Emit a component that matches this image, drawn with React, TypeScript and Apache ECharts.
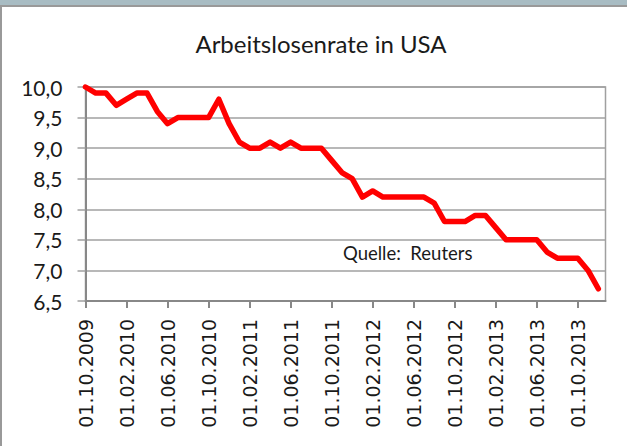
import React, { useEffect, useRef } from "react";
import * as echarts from "echarts";

const titleText = "Arbeitslosenrate in USA";
const sourceText = "Quelle:  Reuters";

// monthly values, 01.10.2009 ... 01.12.2013
const rates = [
  10.0, 9.9, 9.9, 9.7, 9.8, 9.9, 9.9, 9.6, 9.4, 9.5, 9.5, 9.5, 9.5, 9.8, 9.4,
  9.1, 9.0, 9.0, 9.1, 9.0, 9.1, 9.0, 9.0, 9.0, 8.8, 8.6, 8.5, 8.2, 8.3, 8.2,
  8.2, 8.2, 8.2, 8.2, 8.1, 7.8, 7.8, 7.8, 7.9, 7.9, 7.7, 7.5, 7.5, 7.5, 7.5,
  7.3, 7.2, 7.2, 7.2, 7.0, 6.7,
];

const tickLabels = [
  "01.10.2009",
  "01.02.2010",
  "01.06.2010",
  "01.10.2010",
  "01.02.2011",
  "01.06.2011",
  "01.10.2011",
  "01.02.2012",
  "01.06.2012",
  "01.10.2012",
  "01.02.2013",
  "01.06.2013",
  "01.10.2013",
];
const tickStepMonths = 4;

const yMin = 6.5;
const yMax = 10.0;
const yStep = 0.5;

export default function App() {
  const ref = useRef<HTMLDivElement>(null);

  useEffect(() => {
    if (!ref.current) return;
    const chart = echarts.init(ref.current, undefined, { renderer: "svg" });
    const tickValues = tickLabels.map((_, j) => j * tickStepMonths);
    const data = rates.map((v, i) => [i, v]);

    chart.setOption({
      animation: false,
      backgroundColor: "#ffffff",
      title: {
        text: titleText,
        left: 316,
        textAlign: "center",
        top: 26,
        textStyle: {
          fontFamily: "Lato",
          fontSize: 24,
          fontWeight: "normal",
          color: "#1a1a1a",
        },
      },
      graphic: [
        {
          type: "rect",
          shape: { x: 0, y: 0, width: 627, height: 5 },
          style: { fill: "#a8bcc3" },
          silent: true,
        },
        {
          type: "rect",
          shape: { x: 1, y: 6, width: 660, height: 480 },
          style: { fill: "none", stroke: "#999999", lineWidth: 2 },
          silent: true,
        },
        {
          type: "text",
          x: 343,
          y: 253,
          style: {
            text: sourceText,
            fontFamily: "Lato",
            fontSize: 18.5,
            fill: "#1a1a1a",
            verticalAlign: "middle",
          },
          z: 10,
        },
      ],
      grid: {
        left: 85.5,
        right: 21.5,
        top: 87,
        bottom: 145,
        show: true,
        borderColor: "#a0a0a0",
        borderWidth: 1.5,
        outerBoundsMode: "none",
        containLabel: false,
      },
      xAxis: {
        type: "value",
        min: 0,
        max: 50.7,
        splitLine: { show: false },
        axisLine: { show: true, lineStyle: { color: "#888888", width: 2 } },
        axisTick: {
          show: true,
          customValues: tickValues,
          length: 7,
          lineStyle: { color: "#888888", width: 2 },
        },
        axisLabel: {
          customValues: tickValues,
          rotate: 90,
          margin: 18,
          fontFamily: "DejaVu Sans",
          fontSize: 19,
          color: "#1a1a1a",
          formatter: (v: number) => {
            const idx = Math.round(v / tickStepMonths);
            return tickLabels[idx] ?? "";
          },
        },
      },
      yAxis: {
        type: "value",
        min: yMin,
        max: yMax,
        interval: yStep,
        axisLine: { show: true, lineStyle: { color: "#888888", width: 2 } },
        axisTick: {
          show: true,
          length: 8,
          lineStyle: { color: "#a0a0a0", width: 1.5 },
        },
        splitLine: { show: true, lineStyle: { color: "#a0a0a0", width: 1.5 } },
        axisLabel: {
          margin: 23,
          fontFamily: "Lato",
          fontSize: 21,
          color: "#1a1a1a",
          formatter: (v: number) => v.toFixed(1).replace(".", ","),
        },
      },
      series: [
        {
          type: "line",
          data,
          showSymbol: false,
          symbol: "none",
          lineStyle: { color: "#ff0000", width: 5.5, join: "round", cap: "round" },
          z: 5,
        },
      ],
    });

    return () => chart.dispose();
  }, []);

  return (
    <div
      ref={ref}
      style={{ position: "fixed", left: 0, top: 0, width: 627, height: 446 }}
    />
  );
}
